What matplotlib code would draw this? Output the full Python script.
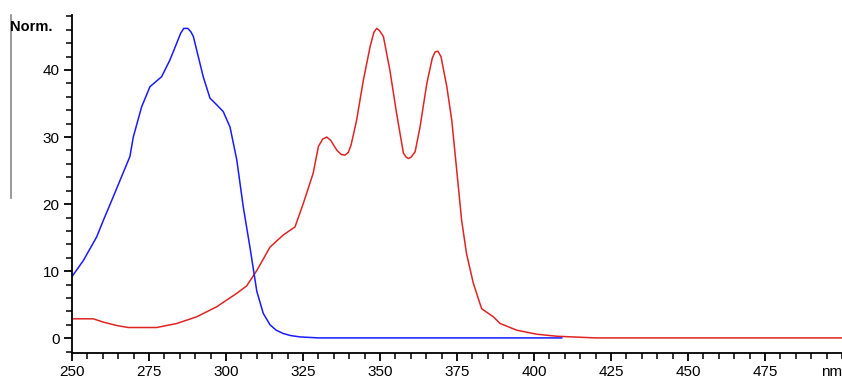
import matplotlib.pyplot as plt
from matplotlib.lines import Line2D
from matplotlib.ticker import MultipleLocator

plt.rcParams['font.family'] = ['Liberation Sans', 'DejaVu Sans']

# blue spectrum
blue_x = [250, 253.7, 258, 260.2, 263.4, 266.1, 268.8, 269.9, 272.6, 275.3, 279.1, 281.8,
          284.0, 285.3, 286.3, 287.6, 288.6, 289.4, 291.0, 292.6, 294.8, 297.0, 299.1,
          301.3, 303.5, 305.6, 307.8, 310.0, 312.1, 314.3, 316.3, 318.6, 321, 324, 330,
          360, 409]
blue_y = [9.2, 11.6, 15.1, 17.6, 21.1, 24.1, 27.1, 30.0, 34.5, 37.5, 39.0, 41.5,
          44.0, 45.5, 46.2, 46.2, 45.7, 45.0, 42.0, 39.0, 35.8, 34.8, 33.8,
          31.5, 26.6, 19.6, 13.5, 7.0, 3.7, 2.0, 1.2, 0.7, 0.4, 0.2, 0.05,
          0.05, 0.05]

# red spectrum
red_x = [250, 256.9, 260.2, 264.5, 268.3, 277.5, 284, 290.5, 297, 303.5, 306.7, 310,
         314.3, 318.6, 322.4, 325.1, 328.3, 330, 331.4, 332.7, 334.0, 335.9, 337.4,
         338.6, 339.7, 340.6, 342.4, 344.6, 346.8, 348.0, 348.9, 349.8, 351.1, 353.2,
         355.4, 357.6, 358.5, 359.2, 360.1, 361.4, 363.0, 365.2, 367.0, 367.9, 368.8,
         369.8, 371.7, 373.3, 374.9, 376.5, 378.1, 380.3, 383.0, 386.8, 389,
         394.4, 400.9, 407.4, 420, 500]
red_y = [2.9, 2.9, 2.4, 1.9, 1.6, 1.6, 2.2, 3.2, 4.7, 6.7, 7.8, 10.1,
         13.6, 15.4, 16.6, 20.1, 24.6, 28.6, 29.7, 30.0, 29.5, 28.1, 27.4,
         27.3, 27.7, 28.8, 32.5, 38.5, 43.5, 45.6, 46.2, 45.9, 45.0, 40.0,
         33.5, 27.6, 27.0, 26.8, 27.0, 27.8, 31.5, 38.0, 41.8, 42.7, 42.8,
         42.0, 37.5, 32.5, 25.1, 17.6, 12.6, 8.2, 4.4, 3.2, 2.2,
         1.2, 0.6, 0.3, 0.05, 0.05]

fig = plt.figure(figsize=(8.42, 3.82), dpi=100)
ax = fig.add_axes([72 / 842, 29 / 382, 770 / 842, 338 / 382])

ax.plot(red_x, red_y, color='#e02424', lw=1.1)
ax.plot(blue_x, blue_y, color='#1a1aff', lw=1.1)

ax.set_xlim(250, 500)
ax.set_ylim(-2.2, 48.2)
ax.set_xticks([250, 275, 300, 325, 350, 375, 400, 425, 450, 475])
ax.set_yticks([0, 10, 20, 30, 40])
ax.xaxis.set_minor_locator(MultipleLocator(5))
ax.yaxis.set_minor_locator(MultipleLocator(2))

for s in ['top', 'right']:
    ax.spines[s].set_visible(False)
for s in ['left', 'bottom']:
    ax.spines[s].set_linewidth(1.3)

ax.tick_params(which='major', direction='out', length=6, width=1.3, labelsize=11, pad=3)
ax.tick_params(which='minor', direction='out', length=4, width=1.1)

ax.text(500, -4.0, 'nm', ha='right', va='top', fontsize=11, clip_on=False)
fig.text(10 / 842, 1 - 27 / 382, 'Norm.', fontsize=10.5, fontweight='bold', va='center', ha='left')
fig.add_artist(Line2D([11 / 842, 11 / 842], [1 - 15 / 382, 1 - 198 / 382], color='#888888', lw=1.2))

fig.savefig('out.png', dpi=100)
